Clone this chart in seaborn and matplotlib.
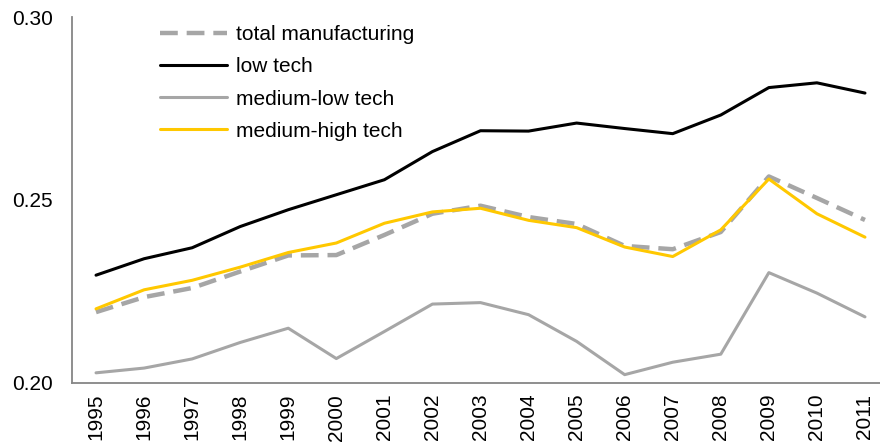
import numpy as np
import matplotlib
matplotlib.use("Agg")
import matplotlib.pyplot as plt
import seaborn as sns
import pandas as pd

years = list(range(1995, 2012))

total_manufacturing = [0.2193, 0.2234, 0.2259, 0.2304, 0.2348, 0.2349, 0.2404, 0.2462, 0.2484,
                       0.2453, 0.2434, 0.2374, 0.2365, 0.2412, 0.2564, 0.2505, 0.2445]
low_tech = [0.2294, 0.2339, 0.2369, 0.2427, 0.2473, 0.2514, 0.2555, 0.2632, 0.2689,
            0.2688, 0.2710, 0.2695, 0.2681, 0.2732, 0.2807, 0.2820, 0.2792]
medium_low_tech = [0.2027, 0.2040, 0.2065, 0.2110, 0.2149, 0.2066, 0.2140, 0.2215, 0.2219,
                   0.2186, 0.2113, 0.2022, 0.2056, 0.2078, 0.2301, 0.2245, 0.2180]
medium_high_tech = [0.2202, 0.2254, 0.2280, 0.2316, 0.2356, 0.2382, 0.2436, 0.2467, 0.2477,
                    0.2444, 0.2424, 0.2371, 0.2345, 0.2418, 0.2557, 0.2462, 0.2398]

series_names = ["total manufacturing", "low tech", "medium-low tech", "medium-high tech"]
series_values = [total_manufacturing, low_tech, medium_low_tech, medium_high_tech]

# tableau long pour seaborn
rows = []
for name, vals in zip(series_names, series_values):
    for i, (yr, v) in enumerate(zip(years, vals)):
        rows.append({"idx": i, "year": yr, "value": v, "series": name})
df = pd.DataFrame(rows)

sns.set_style("white")
plt.rcParams['font.family'] = ['Liberation Sans', 'DejaVu Sans']
plt.rcParams['text.color'] = 'black'

fig = plt.figure(figsize=(8.8, 4.48), dpi=100)
ax = fig.add_axes([72 / 880, 1 - 382.7 / 448, (889 - 72) / 880, (382.7 - 17) / 448])

palette = {"total manufacturing": "#A6A6A6", "low tech": "#000000",
           "medium-low tech": "#A6A6A6", "medium-high tech": "#FFC800"}
widths = {"total manufacturing": 3.2, "low tech": 2.2,
          "medium-low tech": 2.2, "medium-high tech": 2.2}

for name in series_names:
    sub = df[df["series"] == name]
    ls = (0, (4, 2)) if name == "total manufacturing" else "-"
    sns.lineplot(data=sub, x="idx", y="value", color=palette[name], lw=widths[name],
                 linestyle=ls, label=name, ax=ax, zorder=3)

ax.set_xlim(-0.5, len(years) - 0.5)
ax.set_ylim(0.20, 0.30)
ax.set_yticks([0.20, 0.25, 0.30])
ax.set_yticklabels(["0.20", "0.25", "0.30"])
ax.set_xticks(range(len(years)))
ax.set_xticklabels([str(y) for y in years], rotation=90)
ax.set_xticks(np.arange(-0.5, len(years), 1), minor=True)
ax.tick_params(axis="x", which="major", length=0, pad=8, labelsize=15, labelcolor="black")
ax.tick_params(axis="x", which="minor", length=4.5, width=1.3, color="#868686", direction="out")
ax.tick_params(axis="y", length=5, width=1.3, color="#868686", direction="out", labelsize=15,
               pad=9, labelcolor="black")
ax.set_xlabel("")
ax.set_ylabel("")

for s in ["top", "right"]:
    ax.spines[s].set_visible(False)
for s in ["left", "bottom"]:
    ax.spines[s].set_color("#868686")
    ax.spines[s].set_linewidth(1.3)

leg = ax.legend(loc="upper left", bbox_to_anchor=(0.098, 1.0), frameon=False, fontsize=15,
                handlelength=3.2, handletextpad=0.45, labelspacing=0.63, borderaxespad=0.0)
for t in leg.get_texts():
    t.set_color("black")

fig.savefig("out.png", dpi=100)
